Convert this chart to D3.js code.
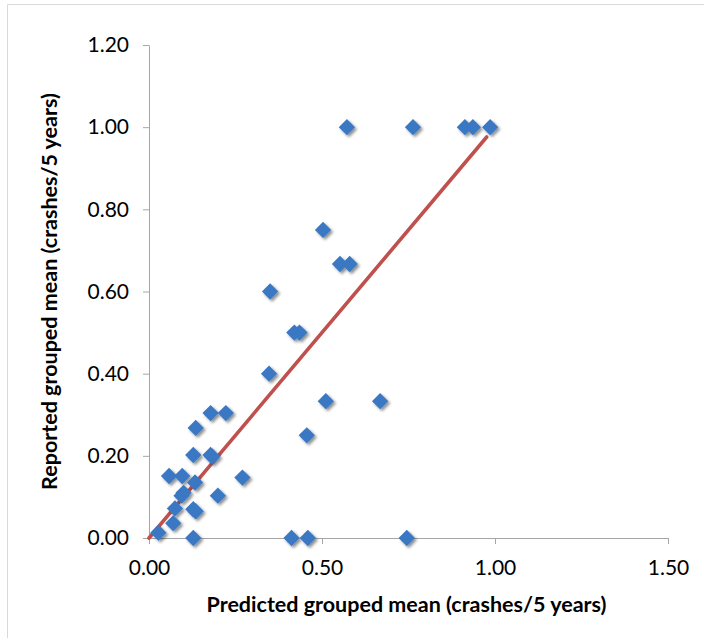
<!DOCTYPE html>
<html>
<head>
<meta charset="utf-8">
<script src="https://cdn.jsdelivr.net/npm/d3@7"></script>
<style>
  html, body { margin: 0; padding: 0; background: #fff; }
  #chart { width: 704px; height: 638px; }
</style>
</head>
<body>
<div id="chart"></div>
<script>
;(function() {
  "use strict";

  // Data: predicted vs reported grouped mean (crashes/5 years)
  // ---------------------------------------------------------------------------
  var predicted = [
    0.572, 0.763, 0.913, 0.936, 0.986,
    0.503, 0.552, 0.580, 0.350, 0.420, 0.435, 0.347,
    0.511, 0.668, 0.456,
    0.178, 0.222, 0.135, 0.128, 0.178, 0.183,
    0.058, 0.096, 0.133, 0.270,
    0.094, 0.100, 0.199, 0.075, 0.128, 0.135, 0.070, 0.027,
    0.128, 0.412, 0.459, 0.745
  ];
  var reported = [
    1.000, 1.000, 1.000, 1.000, 1.000,
    0.750, 0.667, 0.667, 0.600, 0.500, 0.500, 0.400,
    0.333, 0.333, 0.250,
    0.304, 0.304, 0.268, 0.202, 0.202, 0.198,
    0.151, 0.151, 0.135, 0.147,
    0.103, 0.110, 0.103, 0.072, 0.070, 0.065, 0.036, 0.013,
    0.000, 0.000, 0.000, 0.000
  ];
  var trendX = [0, 0.976];
  var trendY = [0, 0.976];
  var xTicks = [0, 0.5, 1.0, 1.5];
  var yTicks = [0, 0.2, 0.4, 0.6, 0.8, 1.0, 1.2];

  // Dimensions
  // ---------------------------------------------------------------------------
  var width = 704, height = 638;
  var margin = { top: 45, right: 36, bottom: 100, left: 149 };
  var innerW = width - margin.left - margin.right;
  var innerH = height - margin.top - margin.bottom;

  var axisColor = "#a6a6a6";
  var font = "Lato, 'Open Sans', sans-serif";

  var x = d3.scaleLinear().domain([0, 1.5]).range([0, innerW]);
  var y = d3.scaleLinear().domain([0, 1.2]).range([innerH, 0]);

  var svg = d3.select("#chart").append("svg")
    .attr("width", width)
    .attr("height", height);

  // Drop shadow for markers
  var filter = svg.append("defs").append("filter")
    .attr("id", "shadow")
    .attr("x", "-50%").attr("y", "-50%")
    .attr("width", "200%").attr("height", "200%");
  filter.append("feGaussianBlur")
    .attr("in", "SourceAlpha").attr("stdDeviation", 1.6).attr("result", "blur");
  filter.append("feOffset")
    .attr("in", "blur").attr("dx", 1.5).attr("dy", 2).attr("result", "off");
  filter.append("feComponentTransfer").attr("in", "off").attr("result", "faded")
    .append("feFuncA").attr("type", "linear").attr("slope", 0.45);
  var merge = filter.append("feMerge");
  merge.append("feMergeNode").attr("in", "faded");
  merge.append("feMergeNode").attr("in", "SourceGraphic");

  // Chart frame (top and left edge visible)
  svg.append("path")
    .attr("d", "M7.5," + height + "V4.5H" + width)
    .attr("fill", "none")
    .attr("stroke", "#d9d9d9")
    .attr("stroke-width", 1);

  var g = svg.append("g")
    .attr("transform", "translate(" + margin.left + "," + margin.top + ")");

  // Axes
  // ---------------------------------------------------------------------------
  var fmt = d3.format(".2f");

  var xAxis = g.append("g")
    .attr("transform", "translate(0," + innerH + ")")
    .call(d3.axisBottom(x).tickValues(xTicks).tickSize(6).tickSizeOuter(0).tickFormat(fmt));

  var yAxis = g.append("g")
    .call(d3.axisLeft(y).tickValues(yTicks).tickSize(6).tickSizeOuter(0).tickFormat(fmt));

  [xAxis, yAxis].forEach(function(a) {
    a.select(".domain").attr("stroke", axisColor);
    a.selectAll(".tick line").attr("stroke", axisColor);
    a.selectAll(".tick text")
      .attr("fill", "#000")
      .attr("font-family", font)
      .attr("font-size", 21);
  });
  xAxis.selectAll(".tick text").attr("y", 22).attr("dy", "0.71em");
  yAxis.selectAll(".tick text").attr("x", -20);

  // Trend line
  // ---------------------------------------------------------------------------
  g.append("line")
    .attr("x1", x(trendX[0])).attr("y1", y(trendY[0]))
    .attr("x2", x(trendX[1])).attr("y2", y(trendY[1]))
    .attr("stroke", "#c0504d")
    .attr("stroke-width", 3.6)
    .attr("stroke-linecap", "round");

  // Markers
  // ---------------------------------------------------------------------------
  var points = predicted.map(function(p, i) { return { x: p, y: reported[i] }; });

  g.append("g")
    .attr("filter", "url(#shadow)")
    .selectAll("path")
    .data(points)
    .enter().append("path")
      .attr("d", d3.symbol().type(d3.symbolDiamond2).size(170))
      .attr("transform", function(d) { return "translate(" + x(d.x) + "," + y(d.y) + ")"; })
      .attr("fill", "#3b78c3");

  // Axis titles
  // ---------------------------------------------------------------------------
  svg.append("text")
    .attr("x", margin.left + x(0.75) - 2)
    .attr("y", 612)
    .attr("text-anchor", "middle")
    .attr("font-family", font)
    .attr("font-weight", "bold")
    .attr("font-size", 21.5)
    .text("Predicted grouped mean (crashes/5 years)");

  svg.append("text")
    .attr("transform", "translate(57," + (margin.top + innerH / 2 + 0) + ") rotate(-90)")
    .attr("text-anchor", "middle")
    .attr("font-family", font)
    .attr("font-weight", "bold")
    .attr("font-size", 21.5)
    .text("Reported grouped mean (crashes/5 years)");
})();
</script>
</body>
</html>
